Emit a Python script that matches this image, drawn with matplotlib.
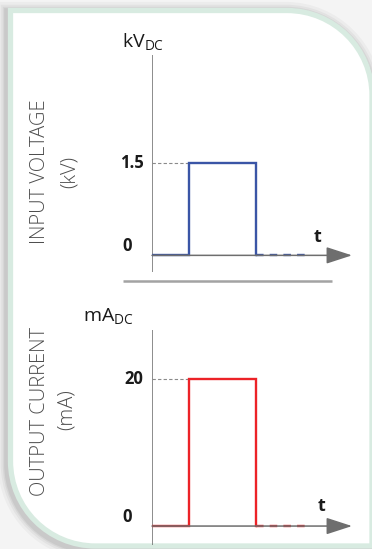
import numpy as np
import matplotlib
matplotlib.use('Agg')
import matplotlib.pyplot as plt
from matplotlib.path import Path
from matplotlib.patches import PathPatch

plt.rcParams['font.family'] = ['Open Sans', 'DejaVu Sans']
plt.rcParams['mathtext.fontset'] = 'custom'
plt.rcParams['mathtext.rm'] = 'Open Sans'

# pulse data (time in arbitrary units)
t_pulse = [0, 1.0, 1.0, 2.8, 2.8]
v_pulse = [0, 0, 1.5, 1.5, 0]
i_pulse = [0, 0, 20, 20, 0]
t_tail = [2.8, 4.15]
v_level = 1.5
i_level = 20

v_ticks = [0, 1.5]
v_ticklabels = ['0', '1.5']
i_ticks = [0, 20]
i_ticklabels = ['0', '20']

W, H = 372, 549
fig = plt.figure(figsize=(W / 100, H / 100), dpi=100)
fig.patch.set_facecolor('#f4f4f4')

# background card (pixel coords)
bg = fig.add_axes([0, 0, 1, 1])
bg.set_xlim(0, W)
bg.set_ylim(H, 0)
bg.axis('off')

R = 85
x0, y0, x1, y1 = 10.5, 10.5, 372, 546
k = 0.5523
verts = [(x0, y0), (x1 - R, y0),
         (x1 - R + k * R, y0), (x1, y0 + R - k * R), (x1, y0 + R),
         (x1, y1), (x0 + R, y1),
         (x0 + R - k * R, y1), (x0, y1 - R + k * R), (x0, y1 - R),
         (x0, y0)]
codes = [Path.MOVETO, Path.LINETO,
         Path.CURVE4, Path.CURVE4, Path.CURVE4,
         Path.LINETO, Path.LINETO,
         Path.CURVE4, Path.CURVE4, Path.CURVE4,
         Path.CLOSEPOLY]
card = Path(verts, codes)
for w, a in [(16, 0.03), (12, 0.04), (9, 0.05), (7, 0.06)]:
    sh = Path(np.array(verts) + np.array([-1.5, 2.5]), codes)
    bg.add_patch(PathPatch(sh, facecolor='none', edgecolor='#000000',
                           lw=w, alpha=a))
bg.add_patch(PathPatch(card, facecolor='white', edgecolor='#d8ebe1', lw=3.8))

# separator
bg.plot([123, 332], [281, 281], color='#a3a3a3', lw=1.8, solid_capstyle='butt')

# side labels
lab = dict(rotation=90, ha='center', va='center', color='#4d4d4d',
           fontsize=14.5, fontweight='light')
bg.text(40, 172, 'INPUT VOLTAGE', **lab)
bg.text(70, 172, '(kV)', **lab)
bg.text(40, 412, 'OUTPUT CURRENT', **lab)
bg.text(67, 410, '(mA)', **lab)

axis_col = '#6e6e6e'


def panel(rect, ylim, t, y, level, color, ticks, ticklabels, unit, unit_xy, t_xy):
    ax = fig.add_axes(rect)
    ax.set_xlim(0, 5.4)
    ax.set_ylim(*ylim)
    ax.axis('off')
    ax.axvline(0, color=axis_col, lw=1.1)
    ax.annotate('', xy=(5.4, 0), xytext=(0, 0),
                arrowprops=dict(arrowstyle='-|>,head_length=0.8,head_width=0.26',
                                mutation_scale=20, color=axis_col, lw=1.1,
                                shrinkA=0, shrinkB=0),
                annotation_clip=False)
    ax.plot([0, t[1]], [level, level], color='#8a8a8a', lw=0.8,
            linestyle=(0, (3, 2)))
    ax.plot(t, y, color=color, lw=1.7, solid_joinstyle='miter')
    ax.plot(t_tail, [0, 0], color=color, lw=1.7, linestyle=(0, (3.2, 2.6)))
    for v, s in zip(ticks, ticklabels):
        ax.annotate(s, xy=(0, v), xytext=(-6 if v else -14.5, 0 if v else 6.5),
                    textcoords='offset points', ha='right', va='center',
                    fontsize=12, fontweight='bold', color='#1a1a1a')
    ax.annotate('t', xy=t_xy, xycoords='figure pixels', ha='center', va='center',
                fontsize=13, fontweight='bold', color='#1a1a1a')
    ax.annotate(unit, xy=unit_xy, xycoords='figure pixels', ha='left',
                va='baseline', fontsize=14, color='#1a1a1a')
    return ax


def frac(px_left, px_right, px_top, px_bottom):
    return [px_left / W, 1 - px_bottom / H, (px_right - px_left) / W,
            (px_bottom - px_top) / H]


panel(frac(152, 352, 55, 272), (-0.27, 3.25), t_pulse, v_pulse, v_level,
      '#3a55a6', v_ticks, v_ticklabels, r'$\mathregular{kV_{DC}}$',
      (122, H - 47), (318, H - 237))
panel(frac(152, 352, 330, 545), (-2.58, 26.7), t_pulse, i_pulse, i_level,
      '#ec2227', i_ticks, i_ticklabels, r'$\mathregular{mA_{DC}}$',
      (83, H - 321), (322, H - 506))

fig.savefig('out.png', dpi=100, facecolor=fig.get_facecolor())
